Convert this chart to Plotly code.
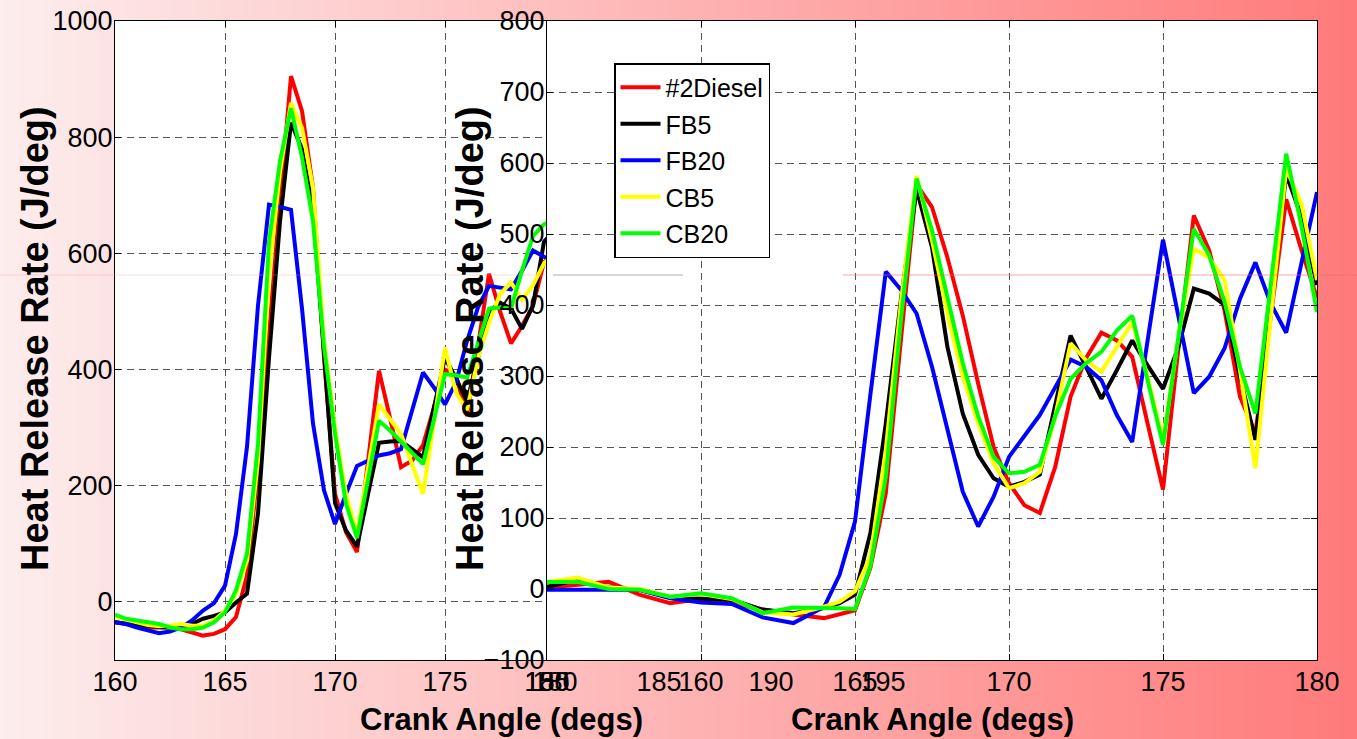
import plotly.graph_objects as go

# ---------------- data ----------------
series_names = ["#2Diesel", "FB5", "FB20", "CB5", "CB20"]
series_colors = ["#ff0000", "#000000", "#0000ff", "#ffff00", "#00ff00"]

# Left panel: crank angle 160..180 step 0.5
left_x = [160 + 0.5 * i for i in range(41)]
left_diesel = [-35, -38, -41, -44, -44, -44, -47, -52, -58, -55, -47, -26, 45, 230, 470,
               690, 905, 845, 713, 420, 186, 120, 86, 240, 398, 317, 232, 243, 270, 335,
               400, 390, 320, 440, 565, 500, 445, 475, 510, 585, 600]
left_fb5 = [-35, -37, -40, -42, -43, -44, -44, -38, -29, -24, -18, -1, 14, 152, 420,
            655, 825, 780, 673, 430, 170, 123, 95, 185, 274, 276, 277, 263, 249, 335,
            420, 385, 345, 420, 500, 515, 505, 470, 510, 620, 640]
left_fb20 = [-35, -38, -44, -49, -54, -51, -44, -32, -15, -2, 28, 117, 267, 510, 684,
             680, 675, 505, 307, 192, 134, 186, 234, 243, 252, 256, 263, 329, 395, 369,
             340, 378, 449, 507, 544, 541, 538, 570, 605, 594, 585]
left_cb5 = [-26, -30, -35, -40, -42, -41, -38, -41, -41, -32, -15, 14, 71, 244, 564,
            741, 859, 816, 713, 450, 300, 186, 117, 230, 340, 315, 289, 237, 186, 310,
            438, 360, 330, 420, 480, 530, 550, 520, 545, 583, 600]
left_cb20 = [-22, -29, -32, -35, -38, -44, -47, -47, -44, -35, -18, 20, 83, 272, 620,
             759, 850, 765, 656, 440, 290, 169, 110, 210, 312, 295, 277, 257, 237, 315,
             392, 390, 386, 445, 505, 507, 505, 570, 630, 650, 660]

# Right panel: crank angle 155..164 step 1, then 164.5..180 step 0.5
right_x = [155, 156, 157, 158, 159, 160, 161, 162, 163, 164, 164.5] + [165 + 0.5 * i for i in range(31)]
right_diesel = [2, 6, 10, -8, -20, -14, -20, -29, -36, -41, -36,
                -30, 30, 135, 355, 570, 538, 467, 385, 289, 200, 149, 118, 107, 172, 271, 325,
                361, 350, 327, 233, 140, 339, 526, 477, 392, 271, 219, 384, 549, 477, 410]
right_fb5 = [3, 13, 2, -1, -12, -13, -15, -29, -34, -27, -20,
             -8, 79, 233, 411, 563, 481, 341, 247, 189, 156, 144, 151, 161, 261, 357, 313,
             268, 308, 350, 315, 282, 341, 423, 416, 400, 299, 210, 392, 584, 524, 428]
right_fb20 = [-1, -1, 0, -1, -13, -19, -21, -40, -48, -25, 20,
              95, 274, 447, 421, 388, 313, 224, 137, 88, 130, 186, 215, 245, 284, 323, 313,
              294, 245, 207, 350, 492, 384, 276, 299, 339, 409, 460, 402, 361, 460, 559]
right_cb5 = [10, 16, 2, 0, -11, -7, -14, -33, -36, -25, -18,
             -3, 46, 196, 407, 582, 491, 388, 299, 233, 177, 142, 149, 165, 243, 346, 322,
             306, 341, 376, 299, 210, 355, 479, 467, 435, 308, 170, 383, 592, 542, 435]
right_cb20 = [10, 10, 0, -1, -11, -6, -13, -34, -26, -26, -27,
              -28, 32, 158, 383, 578, 505, 411, 318, 243, 186, 163, 165, 175, 243, 296, 318,
              334, 364, 385, 294, 203, 355, 507, 470, 404, 313, 247, 430, 613, 510, 390]

left_xticks = [160, 165, 170, 175, 180]
left_yticks = [0, 200, 400, 600, 800, 1000]
hidden_xticks = [180, 185, 190, 195]
right_xticks = [155, 160, 165, 170, 175, 180]
right_yticks = [-100, 0, 100, 200, 300, 400, 500, 600, 700, 800]

x_title = "Crank Angle (degs)"
y_title = "Heat Release Rate (J/deg)"

# ---------------- figure ----------------
W, H = 1357, 739
SANS = "Liberation Sans, Arial, sans-serif"

def px_x(p):
    return p / W

def px_y(p):
    return 1 - p / H

ydom = [px_y(660), px_y(21)]
left_dom = [px_x(115), px_x(555)]
hidden_dom = [px_x(547), px_x(883)]
right_dom = [px_x(547), px_x(1317)]

fig = go.Figure()

# gradient background
fig.add_trace(go.Heatmap(z=[[0, 1], [0, 1]], x=[0, 1], y=[0, 1],
                         colorscale=[[0, "rgb(253,237,237)"], [1, "rgb(255,122,122)"]],
                         showscale=False, zsmooth="best", hoverinfo="skip",
                         xaxis="x", yaxis="y"))

left_data = [left_diesel, left_fb5, left_fb20, left_cb5, left_cb20]
right_data = [right_diesel, right_fb5, right_fb20, right_cb5, right_cb20]

for name, col, ys in zip(series_names, series_colors, left_data):
    fig.add_trace(go.Scatter(x=left_x, y=ys, mode="lines", name=name,
                             line=dict(color=col, width=4), legendgroup=name,
                             showlegend=True, xaxis="x2", yaxis="y2"))

fig.add_trace(go.Scatter(x=[], y=[], mode="lines", showlegend=False,
                         xaxis="x3", yaxis="y3"))

for name, col, ys in zip(series_names, series_colors, right_data):
    fig.add_trace(go.Scatter(x=right_x, y=ys, mode="lines", name=name,
                             line=dict(color=col, width=4), legendgroup=name,
                             showlegend=False, xaxis="x4", yaxis="y4"))

tickfont = dict(family=SANS, size=27, color="black")
grid = dict(showgrid=True, gridcolor="#555555", griddash="7px,5px", gridwidth=1)
frame = dict(showline=True, linecolor="black", linewidth=1, mirror="ticks",
             ticks="inside", ticklen=6, tickcolor="black", zeroline=False)
hidden_frame = dict(showline=True, linecolor="rgba(0,0,0,0)", linewidth=1, mirror=False,
                    ticks="inside", ticklen=6, tickcolor="rgba(0,0,0,0)", zeroline=False,
                    showgrid=False)

fig.update_layout(
    width=W, height=H,
    margin=dict(l=0, r=0, t=0, b=0, autoexpand=False),
    paper_bgcolor="white", plot_bgcolor="white",
    showlegend=True,
    xaxis=dict(domain=[0, 1], range=[0, 1], visible=False, anchor="y"),
    yaxis=dict(domain=[0, 1], range=[0, 1], visible=False, anchor="x"),
    xaxis2=dict(domain=left_dom, range=[160, 180], anchor="y2", tickvals=left_xticks,
                tickfont=tickfont, ticklabelstandoff=-2, **grid, **frame),
    yaxis2=dict(domain=ydom, range=[-100, 1000], anchor="x2", tickvals=left_yticks,
                tickfont=tickfont, ticklabelstandoff=-4, **grid, **frame),
    xaxis3=dict(domain=hidden_dom, range=[180, 195], anchor="y3", tickvals=hidden_xticks,
                tickfont=tickfont, ticklabelstandoff=-2, **hidden_frame),
    yaxis3=dict(domain=ydom, range=[0, 1], anchor="x3", visible=False),
    xaxis4=dict(domain=right_dom, range=[155, 180], anchor="y4", tickvals=right_xticks,
                tickfont=tickfont, ticklabelstandoff=-2, **grid, **frame),
    yaxis4=dict(domain=ydom, range=[-100, 800], anchor="x4", tickvals=right_yticks,
                tickfont=tickfont, ticklabelstandoff=-4, **grid, **frame),
    legend=dict(x=px_x(614), y=px_y(63), xanchor="left", yanchor="top",
                bgcolor="white", bordercolor="black", borderwidth=1.5,
                font=dict(family=SANS, size=25, color="black"),
                tracegroupgap=1, itemwidth=40),
)

annos = [
    dict(text=y_title, x=px_x(35), y=px_y(339), textangle=-90),
    dict(text=y_title, x=px_x(470), y=px_y(339), textangle=-90),
]
for a in annos:
    fig.add_annotation(xref="paper", yref="paper", showarrow=False,
                       xanchor="center", yanchor="middle",
                       font=dict(family=SANS, size=38, color="black", weight="bold"), **a)
for cx in (501, 932):
    fig.add_annotation(text=x_title, xref="paper", yref="paper", showarrow=False,
                       x=px_x(cx), y=px_y(719), xanchor="center", yanchor="middle",
                       font=dict(family=SANS, size=31, color="black", weight="bold"))

# faint horizontal artifact line
fig.add_shape(type="line", xref="paper", yref="paper", x0=0, x1=px_x(547),
              y0=px_y(275), y1=px_y(275), line=dict(color="rgba(240,150,150,0.35)", width=1))
fig.add_shape(type="line", xref="paper", yref="paper", x0=px_x(553), x1=px_x(683),
              y0=px_y(275), y1=px_y(275), line=dict(color="rgba(120,120,120,0.6)", width=1))
fig.add_shape(type="line", xref="paper", yref="paper", x0=px_x(843), x1=1,
              y0=px_y(275), y1=px_y(275), line=dict(color="rgba(230,110,110,0.6)", width=1))

fig.write_html("out.html")
